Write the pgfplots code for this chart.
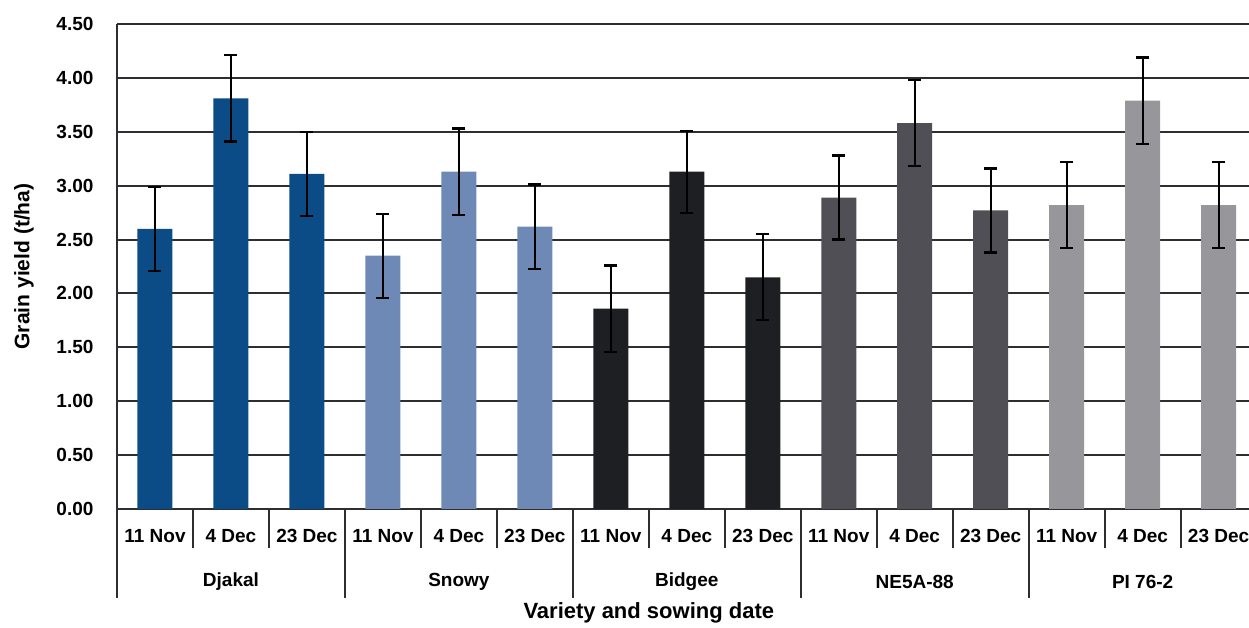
\documentclass[border=0pt]{standalone}
\usepackage{pgfplots}
\pgfplotsset{compat=1.18}
\usepackage{fontspec}
\setmainfont{Liberation Sans}
\definecolor{cDj}{HTML}{0B4C86}
\definecolor{cSn}{HTML}{6E89B5}
\definecolor{cBi}{HTML}{1E1F23}
\definecolor{cNe}{HTML}{4F4F55}
\definecolor{cPi}{HTML}{97979B}
\definecolor{gridc}{HTML}{2E2E32}
\begin{document}
\begin{tikzpicture}[font=\fontsize{19}{22}\selectfont\bfseries]
\useasboundingbox (0,0) rectangle (1249pt,628pt);
\begin{axis}[
  at={(117pt,119pt)}, anchor=south west,
  scale only axis, width=1132pt, height=485pt,
  xmin=-0.5, xmax=14.4, ymin=0, ymax=4.5,
  ytick={0,0.5,1,1.5,2,2.5,3,3.5,4,4.5},
  yticklabel style={/pgf/number format/fixed, /pgf/number format/fixed zerofill, /pgf/number format/precision=2, /pgf/number format/assume math mode=true, xshift=-20pt},
  xtick={0,1,...,14},
  xticklabels={11 Nov,4 Dec,23 Dec,11 Nov,4 Dec,23 Dec,11 Nov,4 Dec,23 Dec,11 Nov,4 Dec,23 Dec,11 Nov,4 Dec,23 Dec},
  xticklabel style={yshift=-17pt},
  major tick length=0pt,
  axis line style={draw=none},
  ymajorgrids, grid style={gridc, line width=2pt},
  ybar, bar width=35pt, bar shift=0pt,
  clip=false,
  error bars/error bar style={black, line width=2.2pt},
  error bars/error mark options={rotate=90, mark size=6.5pt, line width=2.2pt, black},
]
\addplot[fill=cDj, draw=none, error bars/.cd, y dir=both, y explicit] coordinates {
 (0,2.60) +- (0,0.39) (1,3.81) +- (0,0.40) (2,3.11) +- (0,0.39)};
\addplot[fill=cSn, draw=none, error bars/.cd, y dir=both, y explicit] coordinates {
 (3,2.35) +- (0,0.39) (4,3.13) +- (0,0.40) (5,2.62) +- (0,0.39)};
\addplot[fill=cBi, draw=none, error bars/.cd, y dir=both, y explicit] coordinates {
 (6,1.86) +- (0,0.40) (7,3.13) +- (0,0.38) (8,2.15) +- (0,0.40)};
\addplot[fill=cNe, draw=none, error bars/.cd, y dir=both, y explicit] coordinates {
 (9,2.89) +- (0,0.39) (10,3.58) +- (0,0.40) (11,2.77) +- (0,0.39)};
\addplot[fill=cPi, draw=none, error bars/.cd, y dir=both, y explicit] coordinates {
 (12,2.82) +- (0,0.40) (13,3.79) +- (0,0.40) (14,2.82) +- (0,0.40)};
\draw[gridc, line width=2pt] (rel axis cs:0,0) -- (rel axis cs:0,1);
\pgfplotsinvokeforeach{0.5,1.5,3.5,4.5,6.5,7.5,9.5,10.5,12.5,13.5}{
  \draw[gridc, line width=1.8pt] (axis cs:#1,0) -- ([yshift=-39pt]axis cs:#1,0);
}
\pgfplotsinvokeforeach{-0.5,2.5,5.5,8.5,11.5}{
  \draw[gridc, line width=1.8pt] (axis cs:#1,0) -- ([yshift=-89pt]axis cs:#1,0);
}
\node at ([yshift=-73pt]axis cs:1,0) {Djakal};
\node at ([yshift=-73pt]axis cs:4,0) {Snowy};
\node at ([yshift=-73pt]axis cs:7,0) {Bidgee};
\node at ([yshift=-73pt]axis cs:10,0) {NE5A-88};
\node at ([yshift=-73pt]axis cs:13,0) {PI 76-2};
\node at ([yshift=-104pt]axis cs:6.5,0) {\fontsize{22}{25}\selectfont Variety and sowing date};
\node[rotate=90] at ([xshift=-93pt]rel axis cs:0,0.5) {\fontsize{21}{24}\selectfont Grain yield (t/ha)};
\end{axis}
\end{tikzpicture}
\end{document}
